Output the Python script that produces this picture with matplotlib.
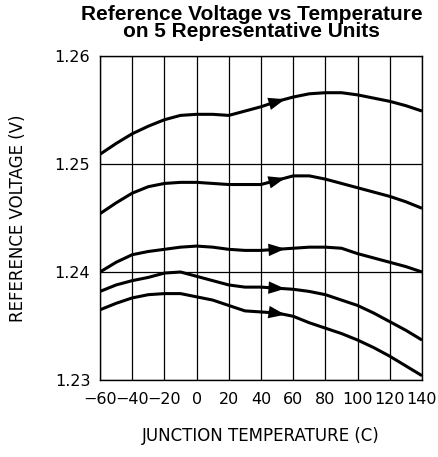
import numpy as np
import matplotlib
matplotlib.use('Agg')
import matplotlib.pyplot as plt

# temperatures (C) and reference voltage (V) for 5 units
temp = [-60, -50, -40, -30, -20, -10, 0, 10, 20, 30, 40, 50, 60, 70, 80, 90, 100, 110, 120, 130, 140]
unit1 = [1.2509, 1.2519, 1.2528, 1.2535, 1.2541, 1.2545, 1.2546, 1.2546, 1.2545, 1.2549, 1.2553,
         1.2558, 1.2562, 1.2565, 1.2566, 1.2566, 1.2564, 1.2561, 1.2558, 1.2554, 1.2549]
unit2 = [1.2454, 1.2464, 1.2473, 1.2479, 1.2482, 1.2483, 1.2483, 1.2482, 1.2481, 1.2481, 1.2481,
         1.2485, 1.2489, 1.2489, 1.2486, 1.2482, 1.2478, 1.2474, 1.2470, 1.2465, 1.2459]
unit3 = [1.2400, 1.2409, 1.2416, 1.2419, 1.2421, 1.2423, 1.2424, 1.2423, 1.2421, 1.2420, 1.2420,
         1.2421, 1.2422, 1.2423, 1.2423, 1.2422, 1.2417, 1.2413, 1.2409, 1.2405, 1.2400]
unit4 = [1.2382, 1.2388, 1.2392, 1.2395, 1.2399, 1.2400, 1.2396, 1.2392, 1.2388, 1.2386, 1.2386,
         1.2385, 1.2384, 1.2382, 1.2379, 1.2374, 1.2369, 1.2362, 1.2354, 1.2346, 1.2337]
unit5 = [1.2365, 1.2371, 1.2376, 1.2379, 1.2380, 1.2380, 1.2377, 1.2374, 1.2369, 1.2364, 1.2363,
         1.2362, 1.2359, 1.2353, 1.2348, 1.2343, 1.2337, 1.2330, 1.2322, 1.2313, 1.2304]

xticks = [-60, -40, -20, 0, 20, 40, 60, 80, 100, 120, 140]
yticks = [1.23, 1.24, 1.25, 1.26]

fig = plt.figure(figsize=(4.39, 4.57), dpi=100)
ax = fig.add_axes([100 / 439, 1 - 380 / 457, 322 / 439, 324 / 457])

for v in [unit1, unit2, unit3, unit4, unit5]:
    ax.plot(temp, v, color='black', lw=2.2, solid_capstyle='butt', solid_joinstyle='round', zorder=3)
    # direction arrow near 50 C
    ax.annotate('', xy=(55, np.interp(55, temp, v)), xytext=(47.5, np.interp(47.5, temp, v)),
                arrowprops=dict(arrowstyle='-|>,head_length=1.2,head_width=0.45', color='black',
                                lw=0, mutation_scale=10, shrinkA=0, shrinkB=0), zorder=4)

ax.set_xlim(-60, 140)
ax.set_ylim(1.23, 1.26)
ax.set_xticks(xticks)
ax.set_yticks(yticks)
ax.set_xticklabels([str(t).replace('-', '\u2212') for t in xticks])
ax.set_yticklabels(['1.23', '1.24', '1.25', '1.26'])
ax.grid(True, color='black', lw=0.9)
ax.tick_params(length=0, labelsize=11.5)
ax.tick_params(axis='x', pad=9)
ax.tick_params(axis='y', pad=7)
for s in ax.spines.values():
    s.set_linewidth(1.0)

ax.set_xlabel('JUNCTION TEMPERATURE (C)', fontsize=12, labelpad=14)
ax.set_ylabel('REFERENCE VOLTAGE (V)', fontsize=12, labelpad=20)
fig.text(0.573, 0.99, 'Reference Voltage vs Temperature\non 5 Representative Units',
         ha='center', va='top', fontsize=15, fontweight='bold',
         family='Liberation Sans', linespacing=0.9)

fig.savefig('out.png', dpi=100)
